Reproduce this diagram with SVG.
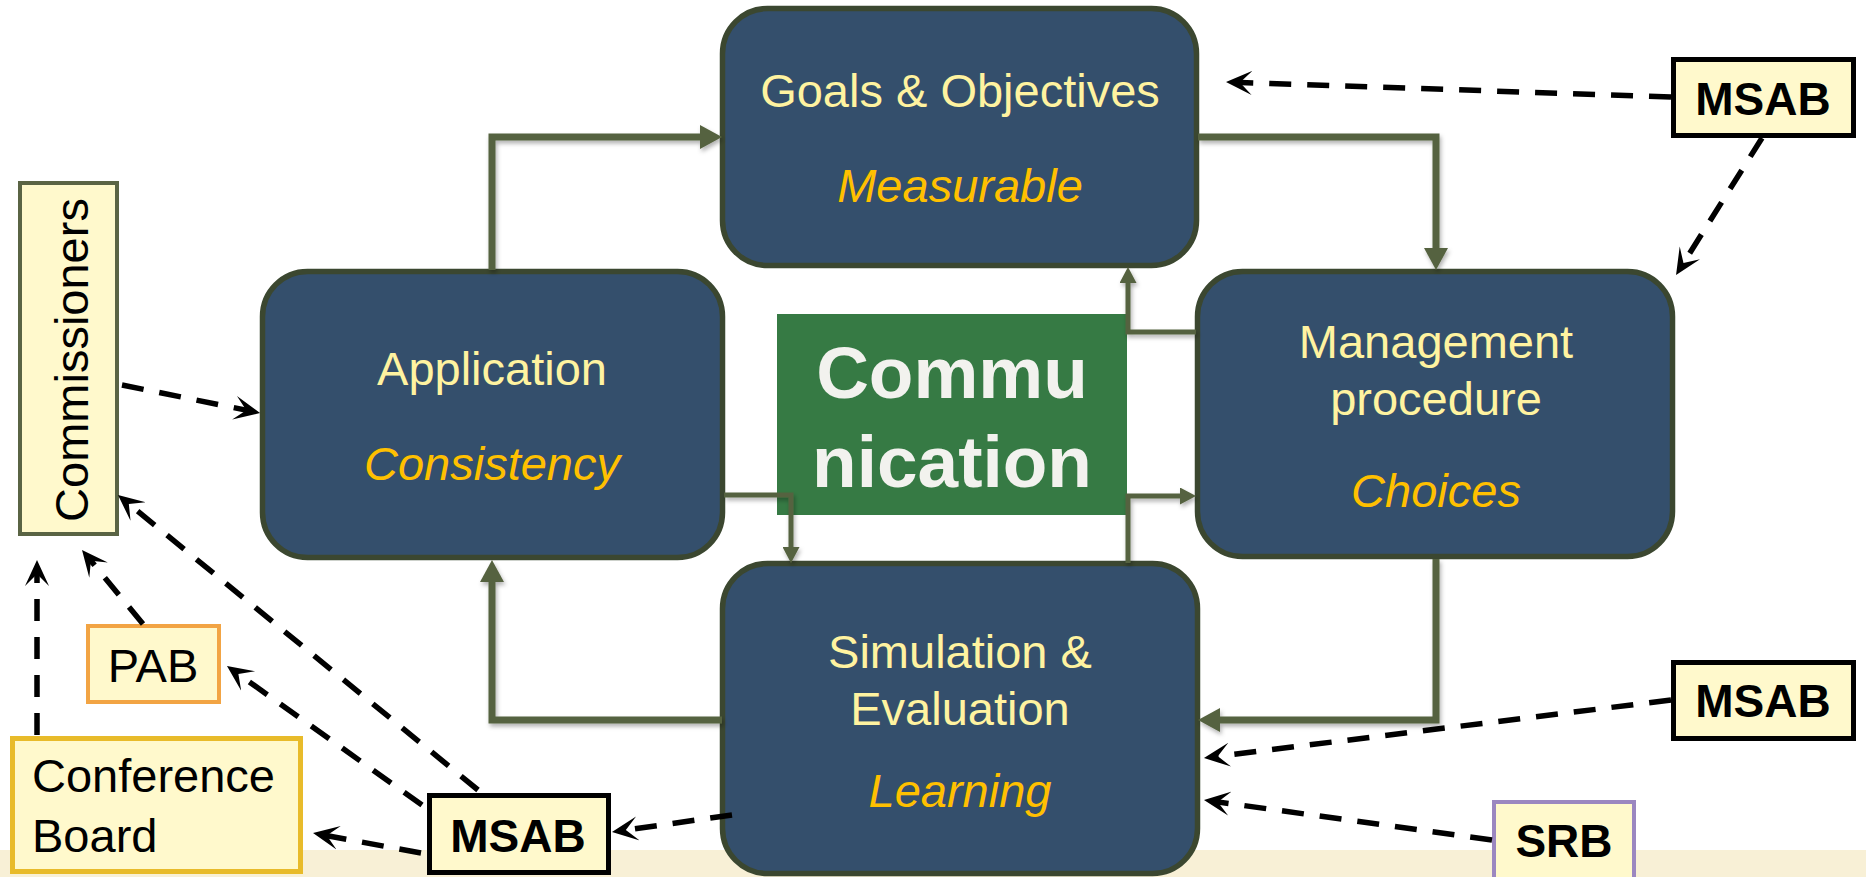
<svg xmlns="http://www.w3.org/2000/svg" width="1866" height="877" viewBox="0 0 1866 877">
  <style>
    .stage { fill: #344f6c; stroke: #3b4730; stroke-width: 5.5; }
    .lbl { font-family: "Liberation Sans", Arial, sans-serif; font-size: 47px; fill: #fff3a0; text-anchor: middle; }
    .sub { font-family: "Liberation Sans", Arial, sans-serif; font-size: 47px; font-style: italic; fill: #ffc000; text-anchor: middle; }
    .tag { fill: #fff9cc; }
    .tagtxt { font-family: "Liberation Sans", Arial, sans-serif; font-size: 47px; fill: #000; }
    .board { fill: #fff9cc; stroke: #000; stroke-width: 5; }
    .boardtxt { font-family: "Liberation Sans", Arial, sans-serif; font-size: 46px; font-weight: bold; fill: #000; text-anchor: middle; }
    .loop { fill: none; stroke: #55623f; stroke-width: 7; stroke-linejoin: miter; }
    .inner { fill: none; stroke: #55623f; stroke-width: 5; stroke-linejoin: miter; }
    .dash { fill: none; stroke: #000; stroke-width: 5.5; stroke-dasharray: 22 16; }
  </style>
  <defs>
    <marker id="headLoop" markerUnits="userSpaceOnUse" viewBox="0 0 22 24" markerWidth="22" markerHeight="24" refX="0" refY="12" orient="auto">
      <path d="M0,0 L22,12 L0,24 Z" fill="#55623f"/>
    </marker>
    <marker id="headInner" markerUnits="userSpaceOnUse" viewBox="0 0 16 17" markerWidth="16" markerHeight="17" refX="0" refY="8.5" orient="auto">
      <path d="M0,0 L16,8.5 L0,17 Z" fill="#55623f"/>
    </marker>
    <marker id="stealth" markerUnits="userSpaceOnUse" viewBox="0 0 26 26" markerWidth="26" markerHeight="26" refX="18" refY="13" orient="auto">
      <path d="M26,13 L0,1 L12,13 L0,25 Z" fill="#000"/>
    </marker>
    <filter id="shade" x="-10%" y="-10%" width="120%" height="130%">
      <feDropShadow dx="1.5" dy="3" stdDeviation="2" flood-color="#000" flood-opacity="0.3"/>
    </filter>
  </defs>

  <rect width="1866" height="877" fill="#ffffff"/>
  <!-- footer band -->
  <rect x="0" y="850" width="1866" height="27" fill="#f8f0d6"/>

  <g id="goals">
    <rect class="stage" x="722.5" y="8.5" width="474" height="257" rx="45"/>
    <text class="lbl" x="960" y="107">Goals &amp; Objectives</text>
    <text class="sub" x="960" y="202">Measurable</text>
  </g>

  <g id="application">
    <rect class="stage" x="262.5" y="271.5" width="460" height="286" rx="45"/>
    <text class="lbl" x="492" y="385">Application</text>
    <text class="sub" x="492" y="480">Consistency</text>
  </g>

  <g id="management">
    <rect class="stage" x="1197.5" y="271.5" width="475" height="285" rx="45"/>
    <text class="lbl" x="1436" y="358">Management</text>
    <text class="lbl" x="1436" y="415">procedure</text>
    <text class="sub" x="1436" y="507">Choices</text>
  </g>

  <g id="simulation">
    <rect class="stage" x="722.5" y="563.5" width="475" height="310" rx="45"/>
    <text class="lbl" x="960" y="668">Simulation &amp;</text>
    <text class="lbl" x="960" y="725">Evaluation</text>
    <text class="sub" x="960" y="807">Learning</text>
  </g>

  <g id="communication">
    <rect x="777" y="314" width="350" height="201" fill="#367a44"/>
    <text x="952" y="398" font-family="Liberation Sans, Arial, sans-serif" font-size="73" font-weight="bold" fill="#f2f2ee" text-anchor="middle">Commu</text>
    <text x="952" y="487" font-family="Liberation Sans, Arial, sans-serif" font-size="73" font-weight="bold" fill="#f2f2ee" text-anchor="middle">nication</text>
  </g>

  <g id="commissioners">
    <rect class="tag" x="20" y="183" width="97" height="351" stroke="#5a6444" stroke-width="4"/>
    <text class="tagtxt" transform="translate(88,360) rotate(-90)" text-anchor="middle">Commissioners</text>
  </g>

  <g id="pab">
    <rect class="tag" x="88" y="626" width="131" height="76" stroke="#f2a444" stroke-width="4"/>
    <text class="tagtxt" x="153" y="682" font-size="44" text-anchor="middle">PAB</text>
  </g>

  <g id="conference-board">
    <rect class="tag" x="12.5" y="738.5" width="288" height="133" stroke="#e8bb2a" stroke-width="5"/>
    <text class="tagtxt" x="32" y="792">Conference</text>
    <text class="tagtxt" x="32" y="852">Board</text>
  </g>

  <g id="msab-top">
    <rect class="board" x="1673.5" y="59.5" width="180" height="76"/>
    <text class="boardtxt" x="1763" y="115">MSAB</text>
  </g>

  <g id="msab-right">
    <rect class="board" x="1673.5" y="662.5" width="180" height="76"/>
    <text class="boardtxt" x="1763" y="717">MSAB</text>
  </g>

  <g id="msab-left">
    <rect class="board" x="429.5" y="795.5" width="179" height="77"/>
    <text class="boardtxt" x="518" y="852">MSAB</text>
  </g>

  <g id="srb">
    <rect x="1494" y="802" width="140" height="80" fill="#fff9cc" stroke="#9b87c0" stroke-width="4"/>
    <text class="boardtxt" x="1564" y="857">SRB</text>
  </g>

  <g id="connectors">
    <g filter="url(#shade)">
      <path class="loop" d="M492,270 V137 H700" marker-end="url(#headLoop)"/>
      <path class="loop" d="M1198,137 H1436 V248" marker-end="url(#headLoop)"/>
      <path class="loop" d="M1436,559 V720 H1220" marker-end="url(#headLoop)"/>
      <path class="loop" d="M722,720 H492 V582" marker-end="url(#headLoop)"/>
      <path class="inner" d="M1196,332 H1128 V283" marker-end="url(#headInner)"/>
      <path class="inner" d="M724,495 H791 V547" marker-end="url(#headInner)"/>
      <path class="inner" d="M1128,563 V496 H1180" marker-end="url(#headInner)"/>
    </g>
    <path class="dash" d="M1671,97 L1234,82.3" marker-end="url(#stealth)"/>
    <path class="dash" d="M1762,138 L1680.3,268.2" marker-end="url(#stealth)"/>
    <path class="dash" d="M1671,700 L1211.9,757" marker-end="url(#stealth)"/>
    <path class="dash" d="M1492,840 L1211.9,801.1" marker-end="url(#stealth)"/>
    <path class="dash" d="M732,815 L619.9,830.9" marker-end="url(#stealth)"/>
    <path class="dash" d="M421,853 L320.9,834.5" marker-end="url(#stealth)"/>
    <path class="dash" d="M422,805 L233.5,670.6" marker-end="url(#stealth)"/>
    <path class="dash" d="M478,790 L124.2,500.1" marker-end="url(#stealth)"/>
    <path class="dash" d="M143,624 L87.1,556.2" marker-end="url(#stealth)"/>
    <path class="dash" d="M37,735 L37,568" marker-end="url(#stealth)"/>
    <path class="dash" d="M122,385 L252.2,411.4" marker-end="url(#stealth)"/>
  </g>
</svg>
